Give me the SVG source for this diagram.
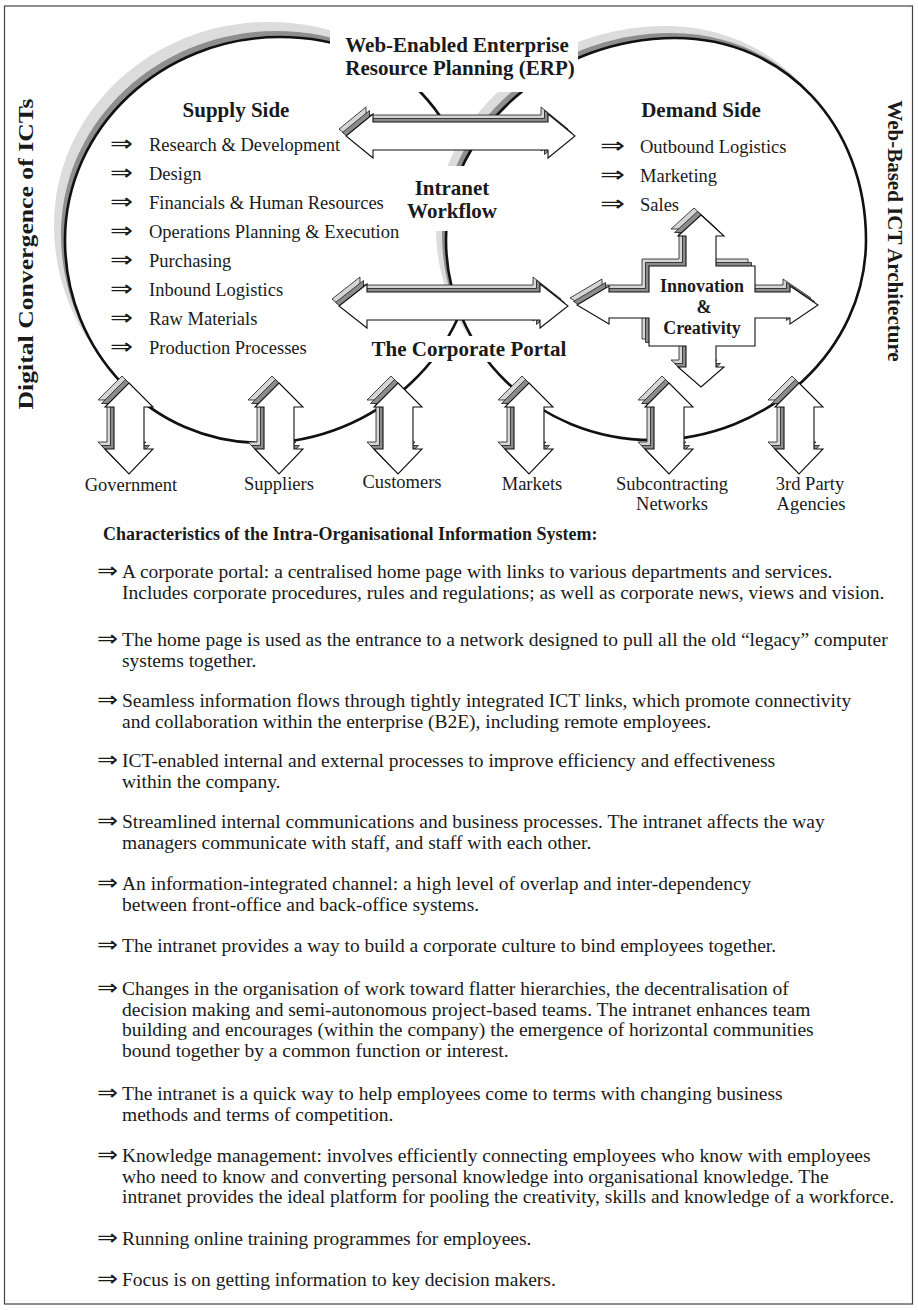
<svg xmlns="http://www.w3.org/2000/svg" width="918" height="1310" viewBox="0 0 918 1310">
<style>
  text { font-family: "Liberation Serif", "Times New Roman", serif; fill: #1a1a1a; }
  .b { font-weight: bold; }
  .t21 { font-size: 21px; }
  .t18 { font-size: 18px; }
  .li { font-size: 18.5px; }
  .bd { font-size: 19.5px; }
  .arr { font-family: "DejaVu Sans", sans-serif; font-size: 22px; }
  .mid { text-anchor: middle; }
  .sh1 { fill: #d5d5d5; stroke: #1a1a1a; stroke-width: 0.8; }
  .sh2 { fill: #8c8c8c; stroke: #1a1a1a; stroke-width: 0.8; }
  .blk { fill: #ffffff; stroke: #111111; stroke-width: 1.1; }
  .ring1 { fill: #dcdcdc; }
  .ring2 { fill: #8e8e8e; }
  .ring { fill: #ffffff; stroke: #111111; stroke-width: 2.6; }
  .mask { fill: #ffffff; }
  .frame { fill: none; stroke: #444444; stroke-width: 1.2; }
</style>
<defs>
  <!-- the two overlapping lobes -->
  <path id="lobeL" d="M65,240 C65,128 162,37 280,37 C398,37 475,120 475,240 C475,352 374,443 262,443 C152,443 65,352 65,240 Z"/>
  <path id="lobeR" d="M446,240 C446,128 555,38 675,38 C785,38 866,125 866,240 C866,350 768,440 652,440 C537,440 446,350 446,240 Z"/>
  <!-- block arrows -->
  <path id="vArrow" d="M0,383 L24,407 L15,407 L15,449 L24,449 L0,474 L-24,449 L-15,449 L-15,407 L-24,407 Z"/>
  <path id="erpArrow" d="M346,136 L373,114 L373,122 L548,122 L548,114 L575,136 L548,158 L548,150 L373,150 L373,158 Z"/>
  <path id="portalArrow" d="M339,306 L367,284 L367,292 L540,292 L540,284 L568,306 L540,328 L540,320 L367,320 L367,328 Z"/>
  <path id="crossArrow" d="M701,215 L724,236 L716,236 L716,266 L755,266 L755,292 L790,292 L790,286 L818,305 L790,324 L790,318 L755,318 L755,346 L716,346 L716,367 L724,367 L701,387 L678,367 L686,367 L686,346 L649,346 L649,318 L609,318 L609,324 L577,305 L609,286 L609,292 L649,292 L649,266 L686,266 L686,236 L678,236 Z"/>
</defs>

<!-- Supply side lobe -->
<g id="supply-side">
  <use href="#lobeL" class="ring1" transform="translate(-11,-15)"/>
  <use href="#lobeL" class="ring2" transform="translate(-4,-6)"/>
  <use href="#lobeL" class="ring"/>
  <text class="b t21 mid" x="236" y="117">Supply Side</text>
  <g class="li">
    <text class="arr" x="110" y="151" textLength="23" lengthAdjust="spacingAndGlyphs">⇒</text>
    <text x="149" y="150.5">Research &amp; Development</text>
    <text class="arr" x="110" y="180" textLength="23" lengthAdjust="spacingAndGlyphs">⇒</text>
    <text x="149" y="179.6">Design</text>
    <text class="arr" x="110" y="209" textLength="23" lengthAdjust="spacingAndGlyphs">⇒</text>
    <text x="149" y="208.7">Financials &amp; Human Resources</text>
    <text class="arr" x="110" y="238" textLength="23" lengthAdjust="spacingAndGlyphs">⇒</text>
    <text x="149" y="237.8">Operations Planning &amp; Execution</text>
    <text class="arr" x="110" y="267" textLength="23" lengthAdjust="spacingAndGlyphs">⇒</text>
    <text x="149" y="266.9">Purchasing</text>
    <text class="arr" x="110" y="296" textLength="23" lengthAdjust="spacingAndGlyphs">⇒</text>
    <text x="149" y="296">Inbound Logistics</text>
    <text class="arr" x="110" y="325" textLength="23" lengthAdjust="spacingAndGlyphs">⇒</text>
    <text x="149" y="325.1">Raw Materials</text>
    <text class="arr" x="110" y="354" textLength="23" lengthAdjust="spacingAndGlyphs">⇒</text>
    <text x="149" y="354.2">Production Processes</text>
  </g>
</g>

<!-- Demand side lobe -->
<g id="demand-side">
  <use href="#lobeR" class="ring1" transform="translate(-10,-12)"/>
  <use href="#lobeR" class="ring2" transform="translate(-4,-5)"/>
  <use href="#lobeR" class="ring"/>
  <text class="b t21 mid" x="701" y="117">Demand Side</text>
  <g class="li">
    <text class="arr" x="600" y="153" textLength="25" lengthAdjust="spacingAndGlyphs">⇒</text>
    <text x="640" y="153">Outbound Logistics</text>
    <text class="arr" x="600" y="182" textLength="25" lengthAdjust="spacingAndGlyphs">⇒</text>
    <text x="640" y="182">Marketing</text>
    <text class="arr" x="600" y="211" textLength="25" lengthAdjust="spacingAndGlyphs">⇒</text>
    <text x="640" y="211">Sales</text>
  </g>
</g>

<!-- Central labels, each on a white backing -->
<g id="erp">
  <rect class="mask" x="330" y="8" width="248" height="84"/>
  <text class="b t21 mid" x="457" y="52">Web-Enabled Enterprise</text>
  <text class="b t21 mid" x="460" y="75">Resource Planning (ERP)</text>
</g>
<g id="intranet-workflow">
  <rect class="mask" x="404" y="166" width="96" height="65"/>
  <text class="b t21 mid" x="452" y="195">Intranet</text>
  <text class="b t21 mid" x="452" y="218">Workflow</text>
</g>
<g id="corporate-portal">
  <rect class="mask" x="368" y="336" width="202" height="26"/>
  <text class="b t21 mid" x="469" y="356">The Corporate Portal</text>
</g>

<!-- Block-arrow connectors -->
<g id="connectors">
  <g id="erp-link">
    <use href="#erpArrow" class="sh1" transform="translate(-7,-7)"/>
    <use href="#erpArrow" class="sh2" transform="translate(-3.5,-3.5)"/>
    <use href="#erpArrow" class="blk"/>
  </g>
  <g id="portal-link">
    <use href="#portalArrow" class="sh1" transform="translate(-7,-7)"/>
    <use href="#portalArrow" class="sh2" transform="translate(-3.5,-3.5)"/>
    <use href="#portalArrow" class="blk"/>
  </g>
  <g id="government-link" transform="translate(129,0)">
    <use href="#vArrow" class="sh1" transform="translate(-7,-7)"/>
    <use href="#vArrow" class="sh2" transform="translate(-3.5,-3.5)"/>
    <use href="#vArrow" class="blk"/>
  </g>
  <g id="suppliers-link" transform="translate(279,0)">
    <use href="#vArrow" class="sh1" transform="translate(-7,-7)"/>
    <use href="#vArrow" class="sh2" transform="translate(-3.5,-3.5)"/>
    <use href="#vArrow" class="blk"/>
  </g>
  <g id="customers-link" transform="translate(398,0)">
    <use href="#vArrow" class="sh1" transform="translate(-7,-7)"/>
    <use href="#vArrow" class="sh2" transform="translate(-3.5,-3.5)"/>
    <use href="#vArrow" class="blk"/>
  </g>
  <g id="markets-link" transform="translate(529,0)">
    <use href="#vArrow" class="sh1" transform="translate(-7,-7)"/>
    <use href="#vArrow" class="sh2" transform="translate(-3.5,-3.5)"/>
    <use href="#vArrow" class="blk"/>
  </g>
  <g id="subcontracting-link" transform="translate(669,0)">
    <use href="#vArrow" class="sh1" transform="translate(-7,-7)"/>
    <use href="#vArrow" class="sh2" transform="translate(-3.5,-3.5)"/>
    <use href="#vArrow" class="blk"/>
  </g>
  <g id="agencies-link" transform="translate(799,0)">
    <use href="#vArrow" class="sh1" transform="translate(-7,-7)"/>
    <use href="#vArrow" class="sh2" transform="translate(-3.5,-3.5)"/>
    <use href="#vArrow" class="blk"/>
  </g>
</g>

<!-- Four-way innovation hub -->
<g id="innovation">
  <use href="#crossArrow" class="sh1" transform="translate(-7,-7)"/>
  <use href="#crossArrow" class="sh2" transform="translate(-3.5,-3.5)"/>
  <use href="#crossArrow" class="blk"/>
  <text class="b t18 mid" x="702" y="292">Innovation</text>
  <text class="b t18 mid" x="704" y="313">&amp;</text>
  <text class="b t18 mid" x="702" y="334">Creativity</text>
</g>

<!-- External parties -->
<g id="government"><text class="li mid" x="131" y="491">Government</text></g>
<g id="suppliers"><text class="li mid" x="279" y="490">Suppliers</text></g>
<g id="customers"><text class="li mid" x="402" y="488">Customers</text></g>
<g id="markets"><text class="li mid" x="532" y="490">Markets</text></g>
<g id="subcontracting"><text class="li mid" x="672" y="490">Subcontracting</text><text class="li mid" x="672" y="510">Networks</text></g>
<g id="agencies"><text class="li mid" x="810" y="490">3rd Party</text><text class="li mid" x="811" y="510">Agencies</text></g>

<!-- Side captions -->
<g id="side-left">
  <text class="b t21 mid" transform="translate(33,254) rotate(-90)" textLength="311" lengthAdjust="spacingAndGlyphs">Digital Convergence of ICTs</text>
</g>
<g id="side-right">
  <text class="b t21 mid" transform="translate(888,231) rotate(90)">Web-Based ICT Architecture</text>
</g>

<!-- Characteristics list -->
<g id="characteristics">
  <text class="b t18" x="103" y="540">Characteristics of the Intra-Organisational Information System:</text>
  <g class="bd">
    <text class="arr" x="97" y="578" textLength="21" lengthAdjust="spacingAndGlyphs">⇒</text>
    <text x="122" y="578">A corporate portal: a centralised home page with links to various departments and services.</text>
    <text x="122" y="598.5">Includes corporate procedures, rules and regulations; as well as corporate news, views and vision.</text>

    <text class="arr" x="97" y="646" textLength="21" lengthAdjust="spacingAndGlyphs">⇒</text>
    <text x="122" y="646">The home page is used as the entrance to a network designed to pull all the old “legacy” computer</text>
    <text x="122" y="666.5">systems together.</text>

    <text class="arr" x="97" y="707" textLength="21" lengthAdjust="spacingAndGlyphs">⇒</text>
    <text x="122" y="707">Seamless information flows through tightly integrated ICT links, which promote connectivity</text>
    <text x="122" y="727.5">and collaboration within the enterprise (B2E), including remote employees.</text>

    <text class="arr" x="97" y="767" textLength="21" lengthAdjust="spacingAndGlyphs">⇒</text>
    <text x="122" y="767">ICT-enabled internal and external processes to improve efficiency and effectiveness</text>
    <text x="122" y="787.5">within the company.</text>

    <text class="arr" x="97" y="828" textLength="21" lengthAdjust="spacingAndGlyphs">⇒</text>
    <text x="122" y="828">Streamlined internal communications and business processes. The intranet affects the way</text>
    <text x="122" y="848.5">managers communicate with staff, and staff with each other.</text>

    <text class="arr" x="97" y="890" textLength="21" lengthAdjust="spacingAndGlyphs">⇒</text>
    <text x="122" y="890">An information-integrated channel: a high level of overlap and inter-dependency</text>
    <text x="122" y="910.5">between front-office and back-office systems.</text>

    <text class="arr" x="97" y="952" textLength="21" lengthAdjust="spacingAndGlyphs">⇒</text>
    <text x="122" y="952">The intranet provides a way to build a corporate culture to bind employees together.</text>

    <text class="arr" x="97" y="995" textLength="21" lengthAdjust="spacingAndGlyphs">⇒</text>
    <text x="122" y="995">Changes in the organisation of work toward flatter hierarchies, the decentralisation of</text>
    <text x="122" y="1015.5">decision making and semi-autonomous project-based teams. The intranet enhances team</text>
    <text x="122" y="1036">building and encourages (within the company) the emergence of horizontal communities</text>
    <text x="122" y="1056.5">bound together by a common function or interest.</text>

    <text class="arr" x="97" y="1100" textLength="21" lengthAdjust="spacingAndGlyphs">⇒</text>
    <text x="122" y="1100">The intranet is a quick way to help employees come to terms with changing business</text>
    <text x="122" y="1120.5">methods and terms of competition.</text>

    <text class="arr" x="97" y="1162" textLength="21" lengthAdjust="spacingAndGlyphs">⇒</text>
    <text x="122" y="1162">Knowledge management: involves efficiently connecting employees who know with employees</text>
    <text x="122" y="1182.5">who need to know and converting personal knowledge into organisational knowledge. The</text>
    <text x="122" y="1203">intranet provides the ideal platform for pooling the creativity, skills and knowledge of a workforce.</text>

    <text class="arr" x="97" y="1245" textLength="21" lengthAdjust="spacingAndGlyphs">⇒</text>
    <text x="122" y="1245">Running online training programmes for employees.</text>

    <text class="arr" x="97" y="1286" textLength="21" lengthAdjust="spacingAndGlyphs">⇒</text>
    <text x="122" y="1286">Focus is on getting information to key decision makers.</text>
  </g>
</g>

<rect class="frame" x="4.5" y="6" width="908" height="1298"/>
</svg>
